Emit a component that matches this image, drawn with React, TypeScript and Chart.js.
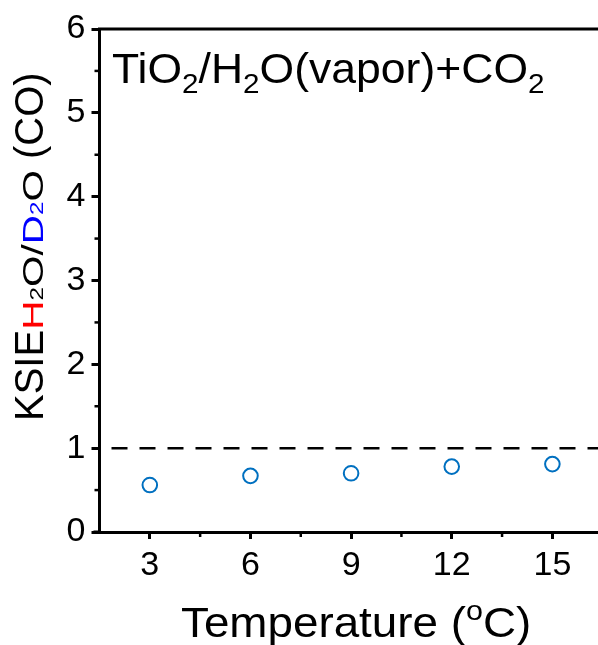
import React, { useEffect, useRef } from "react";
import { Chart, registerables } from "chart.js";

Chart.register(...registerables);

// ---- data ----
const temperatures = [3, 6, 9, 12, 15];
const ksieValues = [0.56, 0.67, 0.7, 0.78, 0.81];
const referenceX = [1.5, 16.5];
const referenceY = [1, 1];
const xRange = [1.5, 16.5];
const yRange = [0, 6];
const xMajorTicks = [3, 6, 9, 12, 15];
const xMinorTicks = [4.5, 7.5, 10.5, 13.5];
const yMajorTicks = [0, 1, 2, 3, 4, 5, 6];
const yMinorTicks = [0.5, 1.5, 2.5, 3.5, 4.5, 5.5];

const FONT = '"Liberation Sans", Arial, Helvetica, sans-serif';

type Run = { t: string; s: number; c?: string; dy?: number; sx?: number };

const titleRuns: Run[] = [
  { t: "TiO", s: 42, sx: 1.06 },
  { t: "2", s: 28, dy: 10, sx: 1.06 },
  { t: "/H", s: 42, sx: 1.06 },
  { t: "2", s: 28, dy: 10, sx: 1.06 },
  { t: "O(vapor)+CO", s: 42, sx: 1.06 },
  { t: "2", s: 28, dy: 10, sx: 1.06 },
];

const yTitleRuns: Run[] = [
  { t: "KSIE", s: 40 },
  { t: "H", s: 30, c: "#ff0000", sx: 1.35 },
  { t: "2", s: 18, sx: 1.35 },
  { t: "O", s: 30, sx: 1.35 },
  { t: "/", s: 30, sx: 1.35 },
  { t: "D", s: 30, c: "#0000ff", sx: 1.35 },
  { t: "2", s: 18, c: "#0000ff", sx: 1.35 },
  { t: "O", s: 30, sx: 1.35 },
  { t: " (CO)", s: 40 },
];

const xTitleRuns: Run[] = [
  { t: "Temperature (", s: 42, sx: 1.09 },
  { t: "o", s: 28, dy: -17, sx: 1.09 },
  { t: "C)", s: 42, sx: 1.09 },
];

function drawRuns(ctx: CanvasRenderingContext2D, runs: Run[], x: number, y: number) {
  let cx = x;
  for (const r of runs) {
    const sx = r.sx || 1;
    ctx.font = `${r.s}px ${FONT}`;
    ctx.fillStyle = r.c || "#000";
    ctx.save();
    ctx.translate(cx, y + (r.dy || 0));
    ctx.scale(sx, 1);
    ctx.fillText(r.t, 0, 0);
    ctx.restore();
    cx += ctx.measureText(r.t).width * sx;
  }
  return cx - x;
}

const decorPlugin = {
  id: "decor",
  afterDraw(chart: any) {
    const ctx: CanvasRenderingContext2D = chart.ctx;
    const { left, right, top, bottom } = chart.chartArea;
    const xs = chart.scales.x;
    const ys = chart.scales.y;
    ctx.save();
    ctx.strokeStyle = "#000";
    ctx.lineWidth = 3;
    ctx.beginPath();
    ctx.moveTo(left - 1.5, top);
    ctx.lineTo(right + 1.5, top);
    ctx.stroke();
    ctx.beginPath();
    ctx.moveTo(right, top);
    ctx.lineTo(right, bottom);
    ctx.stroke();
    // small overshoot of the x axis to the left
    ctx.beginPath();
    ctx.moveTo(left - 6, bottom);
    ctx.lineTo(left, bottom);
    ctx.stroke();

    ctx.lineWidth = 2.5;
    xMinorTicks.forEach((v) => {
      const px = xs.getPixelForValue(v);
      ctx.beginPath();
      ctx.moveTo(px, bottom);
      ctx.lineTo(px, bottom + 5);
      ctx.stroke();
    });
    yMinorTicks.forEach((v) => {
      const py = ys.getPixelForValue(v);
      ctx.beginPath();
      ctx.moveTo(left, py);
      ctx.lineTo(left - 5, py);
      ctx.stroke();
    });

    ctx.textBaseline = "alphabetic";
    ctx.textAlign = "left";
    // panel label
    drawRuns(ctx, titleRuns, 112, 83);

    // x-axis title
    drawRuns(ctx, xTitleRuns, 181, 637);

    // y-axis title (rotated)
    ctx.save();
    ctx.translate(43, 421);
    ctx.rotate(-Math.PI / 2);
    drawRuns(ctx, yTitleRuns, 0, 0);
    ctx.restore();

    ctx.restore();
  },
};

export default function App() {
  const canvasRef = useRef<HTMLCanvasElement | null>(null);

  useEffect(() => {
    document.body.style.margin = "0";
    const canvas = canvasRef.current;
    if (!canvas) return;
    const chart = new Chart(canvas, {
      type: "scatter",
      data: {
        datasets: [
          {
            label: "reference",
            data: referenceX.map((x, i) => ({ x, y: referenceY[i] })),
            showLine: true,
            borderColor: "#000",
            borderWidth: 2.5,
            borderDash: [16, 12],
            borderDashOffset: 16,
            pointRadius: 0,
            fill: false,
          } as any,
          {
            label: "KSIE",
            data: temperatures.map((x, i) => ({ x, y: ksieValues[i] })),
            showLine: false,
            pointRadius: 7.3,
            pointBorderWidth: 2,
            borderColor: "rgb(0,112,192)",
            backgroundColor: "rgba(0,0,0,0)",
            pointBackgroundColor: "rgba(0,0,0,0)",
            pointBorderColor: "rgb(0,112,192)",
          } as any,
        ],
      },
      options: {
        responsive: false,
        animation: false,
        layout: { padding: { top: 29, right: 1, left: 0, bottom: 0 } },
        plugins: {
          legend: { display: false },
          tooltip: { enabled: false },
        },
        scales: {
          x: {
            type: "linear",
            min: xRange[0],
            max: xRange[1],
            afterBuildTicks: (s: any) => {
              s.ticks = xMajorTicks.map((v) => ({ value: v }));
            },
            afterFit: (s: any) => {
              s.height = 113;
              s.paddingLeft = 0;
              s.paddingRight = 0;
            },
            grid: {
              drawOnChartArea: false,
              drawTicks: true,
              tickLength: 7,
              tickWidth: 3,
              tickColor: "#000",
            },
            border: { display: true, width: 3, color: "#000" },
            ticks: {
              font: { family: FONT, size: 34 },
              color: "#000",
              padding: 6,
              maxRotation: 0,
              autoSkip: false,
              callback: (v: any) => String(v),
            },
          },
          y: {
            type: "linear",
            min: yRange[0],
            max: yRange[1],
            afterBuildTicks: (s: any) => {
              s.ticks = yMajorTicks.map((v) => ({ value: v }));
            },
            afterFit: (s: any) => {
              s.width = 99.5;
            },
            grid: {
              drawOnChartArea: false,
              drawTicks: true,
              tickLength: 8,
              tickWidth: 3,
              tickColor: "#000",
            },
            border: { display: true, width: 3, color: "#000" },
            ticks: {
              font: { family: FONT, size: 34 },
              color: "#000",
              padding: 6,
              autoSkip: false,
              callback: (v: any) => String(v),
            },
          },
        },
      } as any,
      plugins: [decorPlugin],
    });
    return () => chart.destroy();
  }, []);

  return (
    <div style={{ width: 598, height: 645, overflow: "hidden", position: "relative", background: "#fff" }}>
      <canvas ref={canvasRef} width={612} height={645} style={{ display: "block", width: 612, height: 645 }} />
    </div>
  );
}
